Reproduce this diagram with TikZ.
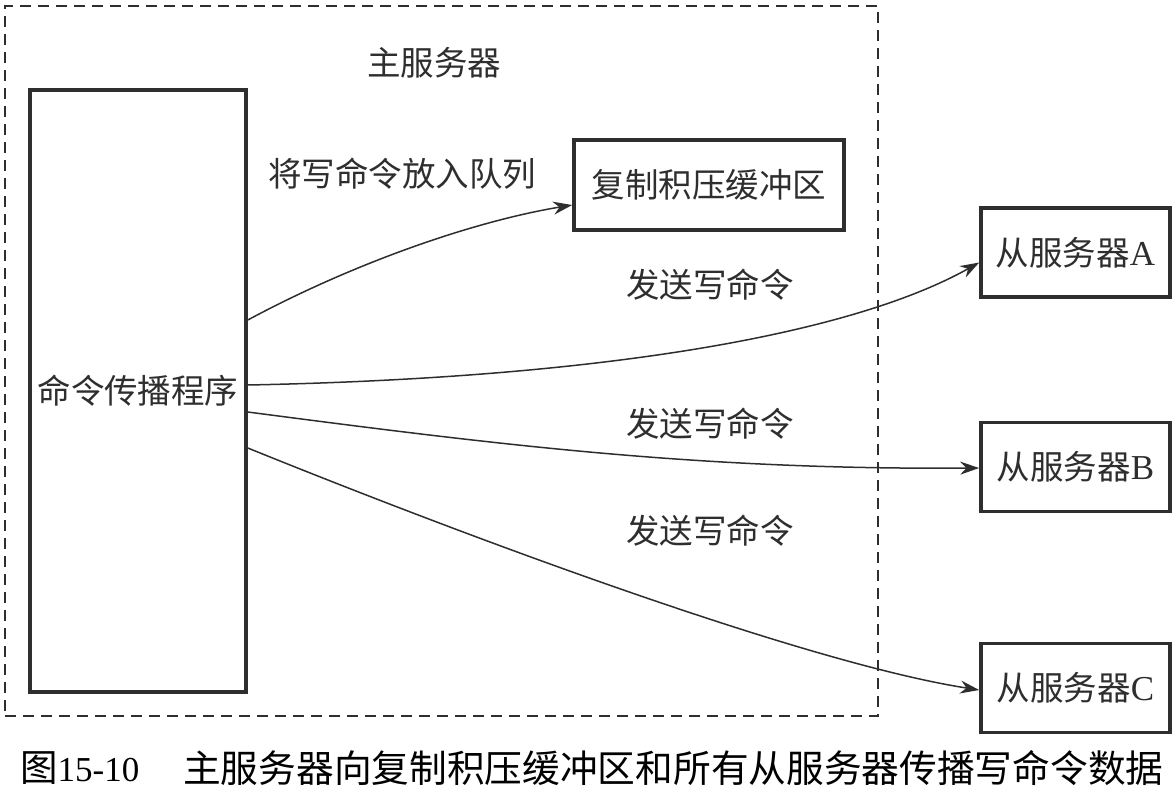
\documentclass[tikz,border=0pt]{standalone}
\usepackage{fontspec}
\setmainfont{Liberation Serif}
\newfontfamily\cjk{Noto Sans CJK SC}
\usetikzlibrary{arrows.meta,calc}
\definecolor{ink}{HTML}{2E2E2E}
\begin{document}
\begin{tikzpicture}[x=1pt,y=-1pt,
  box/.style={draw=ink,line width=3.6pt,rectangle,inner sep=0pt,font=\fontsize{33.5}{36}\selectfont\cjk,text=ink},
  lbl/.style={font=\fontsize{33.5}{36}\selectfont\cjk,text=ink,inner sep=0pt},
  conn/.style={draw=ink,line width=1.5pt,-{Stealth[length=19pt,width=13pt]}}]
\useasboundingbox (0,0) rectangle (1175,789);
\node[draw=ink,line width=1.3pt,dash pattern=on 11pt off 7pt,rectangle,minimum width=873pt,minimum height=710pt,inner sep=0pt] (master) at (441.5,361) {};
\node[lbl] (mtitle) at (434,63) {主服务器};
\node[box,minimum width=216pt,minimum height=602pt] (prog) at (138,391) {命令传播程序};
\node[box,minimum width=270pt,minimum height=90pt] (buf) at (709,185) {复制积压缓冲区};
\node[box,minimum width=189pt,minimum height=89pt] (sA) at (1075.5,252.5) {从服务器\fontspec{Liberation Serif}\fontsize{35}{36}\selectfont A};
\node[box,minimum width=189pt,minimum height=89pt] (sB) at (1075.5,467) {从服务器\fontspec{Liberation Serif}\fontsize{35}{36}\selectfont B};
\node[box,minimum width=189pt,minimum height=89pt] (sC) at (1075.5,688) {从服务器\fontspec{Liberation Serif}\fontsize{35}{36}\selectfont C};
\node[lbl] (l1) at (402,174) {将写命令放入队列};
\node[lbl] (l2) at (710,285) {发送写命令};
\node[lbl] (l3) at (710,424) {发送写命令};
\node[lbl] (l4) at (710,531) {发送写命令};
\draw[conn] ($(prog.east)+(0,-71)$) .. controls (350,265) and (470,222) .. ($(buf.west)+(0,20)$);
\draw[conn] ($(prog.east)+(0,-6)$) .. controls (600,378) and (850,335) .. ($(sA.west)+(0,10)$);
\draw[conn] ($(prog.east)+(0,21)$) .. controls (500,445) and (700,470) .. ($(sB.west)+(0,1)$);
\draw[conn] ($(prog.east)+(0,57)$) .. controls (450,530) and (800,662) .. ($(sC.west)+(0,2)$);
\node[anchor=west,inner sep=0pt,text=black] (capnum) at (20,768) {{\fontsize{37.5}{40}\selectfont\cjk 图}{\fontsize{35}{40}\selectfont 15-10}};
\node[anchor=west,inner sep=0pt,text=black,font=\fontsize{37.7}{40}\selectfont\cjk] (cap) at (183,768) {主服务器向复制积压缓冲区和所有从服务器传播写命令数据};
\end{tikzpicture}
\end{document}
